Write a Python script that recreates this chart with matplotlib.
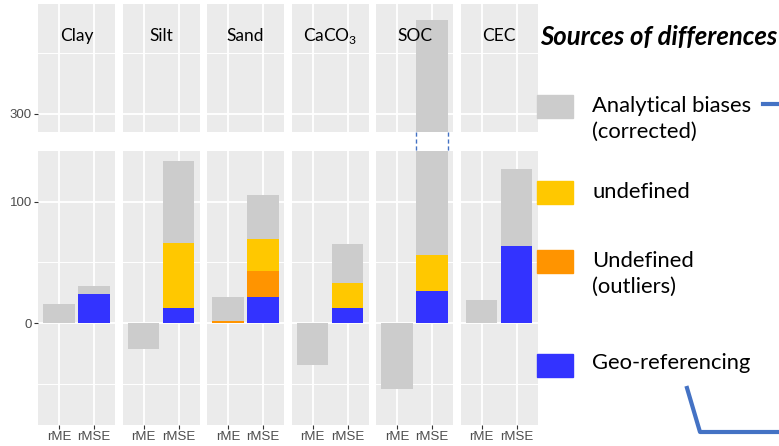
import matplotlib
matplotlib.use("Agg")
import matplotlib.pyplot as plt
from matplotlib.patches import Rectangle
from matplotlib.lines import Line2D
from matplotlib.transforms import blended_transform_factory
import numpy as np

plt.rcParams['mathtext.fontset'] = 'custom'
plt.rcParams['mathtext.rm'] = 'Lato'

# data
facets = ["Clay", "Silt", "Sand", "CaCO$_3$", "SOC", "CEC"]
metrics = ["rME", "rMSE"]

# rME bars (stack: outliers then analytical)
rme_outliers = [0, 0, 2, 0, 0, 0]
rme_analytical = [16, -21, 19.6, -34, -54.3, 19.2]

# rMSE bars (stack bottom -> top: geo, outliers, undefined, analytical)
rmse_geo = [24.4, 12.3, 21.6, 12.6, 26.6, 63.3]
rmse_outliers = [0, 0, 21.1, 0, 0, 0]
rmse_undefined = [0, 53.5, 26.6, 20.8, 29.6, 0]
rmse_analytical = [6.3, 67.7, 36.2, 32.1, 320.8, 63.9]

sources = ["Analytical biases\n(corrected)", "undefined", "Undefined\n(outliers)", "Geo-referencing"]
src_colors = ["#CCCCCC", "#FFC800", "#FF9400", "#3333FF"]
c_gray, c_yel, c_org, c_blue = src_colors

W, H = 779, 446
fig = plt.figure(figsize=(W / 100, H / 100), dpi=100)


def px_axes(x0, y0, x1, y1):
    return fig.add_axes([x0 / W, 1 - y1 / H, (x1 - x0) / W, (y1 - y0) / H])


def style(ax, ylim, major, minor):
    ax.set_facecolor("#EBEBEB")
    for s in ax.spines.values():
        s.set_visible(False)
    ax.set_xlim(0.4, 2.6)
    ax.set_ylim(*ylim)
    ax.set_xticks([1, 2])
    ax.set_yticks(major)
    ax.set_yticks(minor, minor=True)
    ax.set_axisbelow(True)
    ax.grid(True, which="major", color="white", lw=1.3)
    ax.grid(True, which="minor", axis="y", color="white", lw=0.7)
    ax.tick_params(which="minor", length=0)
    ax.tick_params(which="major", length=3, color="#333333", width=0.8,
                   labelcolor="#4D4D4D", pad=1.5)


def bars(ax, i):
    w = 0.9
    ax.bar(1, rme_outliers[i], w, color=c_org)
    ax.bar(1, rme_analytical[i], w, bottom=rme_outliers[i], color=c_gray)
    b = 0
    for vals, c in [(rmse_geo, c_blue), (rmse_outliers, c_org),
                    (rmse_undefined, c_yel), (rmse_analytical, c_gray)]:
        ax.bar(2, vals[i], w, bottom=b, color=c)
        b += vals[i]


lefts = [38 + 84.5 * k for k in range(6)]
sc = 1.216  # px per unit
for i, name in enumerate(facets):
    x0 = lefts[i]
    up = px_axes(x0, 4, x0 + 77, 132)
    lo = px_axes(x0, 151, x0 + 77, 425)
    style(up, (300 - 18 / sc, 300 + 110 / sc), [300], [350])
    style(lo, (-(425 - 323.3) / sc, (323.3 - 151) / sc), [0, 100], [-50, 50])
    bars(up, i)
    bars(lo, i)
    up.tick_params(axis="x", length=0, labelbottom=False)
    lo.set_xticklabels(metrics, fontname="Liberation Sans", fontsize=9.5)
    if i > 0:
        up.tick_params(axis="y", length=0, labelleft=False)
        lo.tick_params(axis="y", length=0, labelleft=False)
    else:
        up.set_yticklabels(["300"], fontname="Liberation Sans", fontsize=9.5)
        lo.set_yticklabels(["0", "100"], fontname="Liberation Sans", fontsize=9.5)
    up.text(0.5, 0.713, name, transform=up.transAxes, ha="center", va="baseline",
            fontsize=12.5, family="Lato", color="black")
    if name == "SOC":
        tr = blended_transform_factory(lo.transData, fig.transFigure)
        for xx in (2 - 0.45, 2 + 0.45):
            fig.add_artist(Line2D([xx, xx], [1 - 132 / H, 1 - 151 / H], transform=tr,
                                  color="#4472C4", lw=1.0, ls=(0, (3, 2))))

# legend drawn by hand on the right
patch_y = [106.5, 192.5, 261.5, 365]
text_y = [119, 191.5, 274, 363]
for lab, c, py, ty in zip(sources, src_colors, patch_y, text_y):
    fig.add_artist(Rectangle(((537) / W, 1 - (py + 11.5) / H), 36 / W, 23 / H,
                             transform=fig.transFigure, color=c))
    fig.text(592 / W, 1 - ty / H, lab, ha="left", va="center", fontsize=15.8,
             family="Lato", linespacing=1.34)
fig.text(540 / W, 1 - 37 / H, "Sources of differences", ha="left", va="center",
         fontsize=18.5, family="Lato", weight="bold", style="italic")

# blue arrow pieces at the right edge
arrow = "#4472C4"
fig.add_artist(Line2D([763 / W, 1.0], [1 - 104 / H, 1 - 104 / H],
                      transform=fig.transFigure, color=arrow, lw=3))
fig.add_artist(Line2D([687 / W, 700 / W, 1.0], [1 - 388 / H, 1 - 432 / H, 1 - 432 / H],
                      transform=fig.transFigure, color=arrow, lw=3))

fig.savefig("out.png", dpi=100)
